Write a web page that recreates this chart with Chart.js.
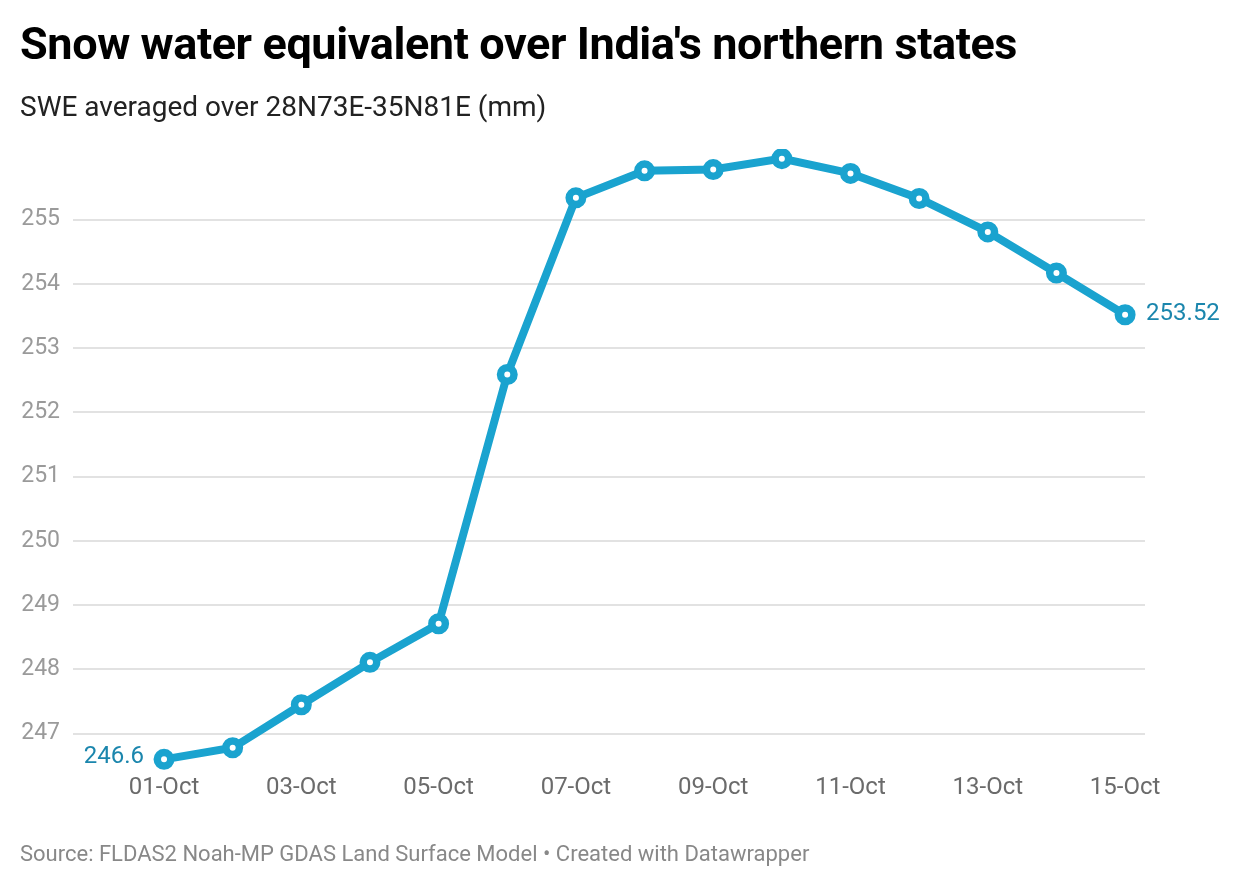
<!DOCTYPE html>
<html>
<head>
<meta charset="utf-8">
<script src="https://cdn.jsdelivr.net/npm/chart.js@4"></script>
<style>
  body { margin: 0; background: #fff; font-family: Roboto, sans-serif; }
  .wrap { position: relative; width: 1240px; height: 886px; }
  h1 { position: absolute; left: 20px; top: 17px; margin: 0; font-size: 45px; font-weight: 700; color: #000; letter-spacing: -0.4px; }
  .sub { position: absolute; left: 20px; top: 90px; font-size: 28px; color: #222; }
  .src { position: absolute; left: 20px; top: 841px; font-size: 22px; color: #888; }
  canvas { position: absolute; left: 0; top: 0; }
</style>
</head>
<body>
<div class="wrap">
  <canvas id="myChart" width="1240" height="886"></canvas>
  <h1>Snow water equivalent over India's northern states</h1>
  <div class="sub">SWE averaged over 28N73E-35N81E (mm)</div>
  <div class="src">Source: FLDAS2 Noah-MP GDAS Land Surface Model • Created with Datawrapper</div>
</div>
<script>
const days = ["01-Oct", "02-Oct", "03-Oct", "04-Oct", "05-Oct", "06-Oct", "07-Oct", "08-Oct",
  "09-Oct", "10-Oct", "11-Oct", "12-Oct", "13-Oct", "14-Oct", "15-Oct"];
const swe = [246.6, 246.78, 247.45, 248.11, 248.71, 252.59, 255.34, 255.76,
  255.78, 255.95, 255.72, 255.33, 254.81, 254.17, 253.52];
const yTicks = [247, 248, 249, 250, 251, 252, 253, 254, 255];
const xTicks = [1, 3, 5, 7, 9, 11, 13, 15];

const blue = "#1aa3cf";

// labels for first and last value
const endLabels = {
  id: "endLabels",
  afterDatasetsDraw(chart) {
    const ctx = chart.ctx;
    const pts = chart.getDatasetMeta(0).data;
    const first = pts[0], last = pts[pts.length - 1];
    ctx.save();
    ctx.font = "24px Roboto";
    ctx.fillStyle = "#1b86ad";
    ctx.textBaseline = "middle";
    ctx.textAlign = "right";
    ctx.fillText(String(swe[0]), first.x - 20, first.y - 2);
    ctx.textAlign = "left";
    ctx.fillText(String(swe[swe.length - 1]), last.x + 21, last.y - 1);
    ctx.restore();
  }
};

new Chart(document.getElementById("myChart").getContext("2d"), {
  type: "line",
  data: {
    datasets: [{
      data: swe.map((v, i) => ({ x: i + 1, y: v })),
      borderColor: blue,
      borderWidth: 8,
      pointRadius: 6.75,
      pointBorderWidth: 7.5,
      pointBackgroundColor: "#fff",
      pointBorderColor: blue,
      tension: 0
    }]
  },
  options: {
    responsive: false,
    animation: false,
    layout: { padding: { top: 149, right: 95, bottom: 91, left: 0 } },
    plugins: { legend: { display: false }, tooltip: { enabled: false } },
    scales: {
      x: {
        type: "linear",
        min: -0.326,
        max: 15.29,
        afterBuildTicks: (s) => { s.ticks = xTicks.map(v => ({ value: v })); },
        ticks: {
          callback: (v) => days[v - 1],
          color: "#6b6b6b",
          font: { family: "Roboto", size: 24 },
          padding: -7,
          maxRotation: 0,
          autoSkip: false
        },
        grid: { display: false },
        border: { display: false }
      },
      y: {
        min: 246.4,
        max: 256.1,
        afterBuildTicks: (s) => { s.ticks = yTicks.map(v => ({ value: v })); },
        afterFit: (s) => { s.width = 73; },
        ticks: {
          color: "#9a9a9a",
          font: { family: "Roboto", size: 23 },
          padding: 13
        },
        grid: { color: "#e2e2e2", lineWidth: 2, drawTicks: false },
        border: { display: false }
      }
    }
  },
  plugins: [endLabels]
});
</script>
</body>
</html>
